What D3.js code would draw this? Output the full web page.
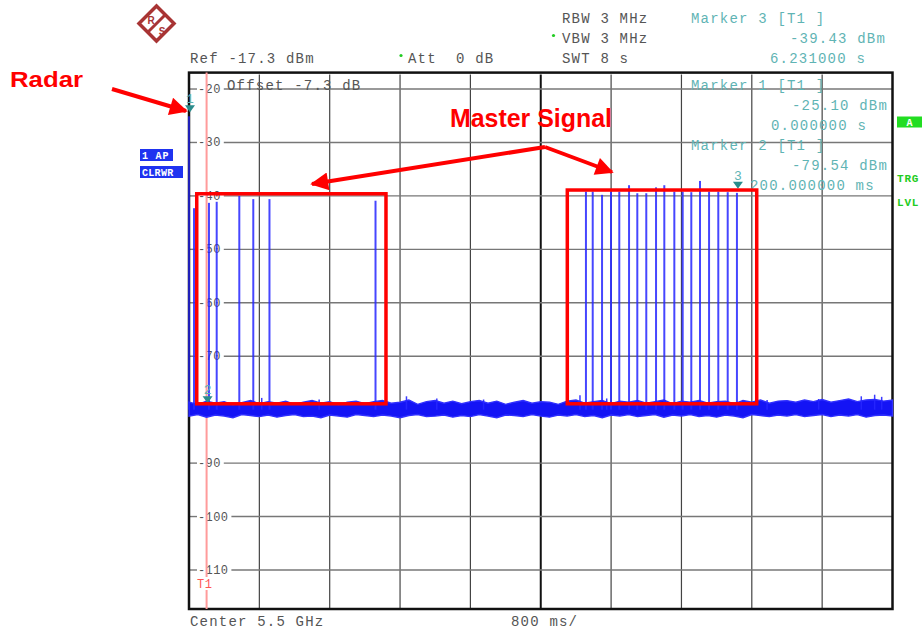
<!DOCTYPE html>
<html>
<head>
<meta charset="utf-8">
<script src="https://cdn.jsdelivr.net/npm/d3@7"></script>
<style>
  body { margin: 0; background: #fff; }
  text { white-space: pre; }
</style>
</head>
<body>
<div id="chart"></div>
<script>
// Sweep: 8 s over 10 divisions, ref level -17.3 dBm, 10 dB/div
var sweepMs = 8000;
var refLevel = -17.3;
var bottomLevel = -117.3;
var levelTicks = [-20, -30, -40, -50, -60, -70, -80, -90, -100, -110];
var timeTicks = [0, 800, 1600, 2400, 3200, 4000, 4800, 5600, 6400, 7200, 8000];

// Radar pulse (marker 1)
var radarTime = [0];
var radarPeak = [-25.1];

// Master signal pulses, first burst
var leftPulseTimes = [57, 227, 315, 572, 731, 915, 2121];
var leftPulsePeaks = [-42.3, -41.3, -41.1, -40.0, -40.6, -40.6, -40.9];

// Master signal pulses, second burst
var rightPulseTimes = [4514, 4591, 4697, 4799, 4893, 5004, 5098, 5200, 5311, 5405, 5519, 5614, 5712, 5811, 5914, 6019, 6126, 6231];
var rightPulsePeaks = [-39.2, -39.2, -39.8, -39.2, -39.2, -38.0, -39.5, -39.5, -38.4, -38.0, -39.2, -39.2, -39.3, -37.2, -39.2, -39.2, -39.3, -39.43];

// Noise floor envelope, every 100 ms
var noiseTop = [-78.6, -79.0, -78.4, -78.8, -78.5, -79.1, -78.7, -78.3, -78.9, -78.5, -78.8,
  -78.4, -79.0, -78.6, -78.3, -78.8, -78.5, -79.1, -78.6, -78.4, -78.9,
  -78.5, -78.3, -78.8, -78.6, -78.2, -79.0, -78.5, -78.3, -78.8, -78.4,
  -78.9, -78.5, -78.3, -78.8, -78.4, -79.0, -78.6, -78.3, -78.8, -78.5,
  -78.6, -79.0, -78.4, -78.2, -78.8, -78.5, -78.3, -78.9, -78.4, -78.6,
  -78.3, -78.8, -78.5, -78.2, -78.9, -78.4, -78.6, -78.3, -78.8, -78.5,
  -78.4, -78.9, -78.3, -78.6, -78.2, -78.8, -78.4, -78.3, -78.6, -78.2,
  -78.5, -78.1, -78.6, -78.3, -78.0, -78.5, -78.2, -78.1, -78.4, -78.2];
var noiseBottom = [-81.2, -80.9, -81.4, -81.0, -81.2, -81.5, -80.9, -81.1, -81.3, -81.0, -81.4,
  -81.1, -80.9, -81.3, -81.2, -81.5, -81.0, -81.2, -81.4, -80.9, -81.1,
  -81.3, -81.0, -81.2, -81.5, -81.1, -80.9, -81.3, -81.2, -81.0, -81.4,
  -81.1, -81.3, -80.9, -81.2, -81.5, -81.0, -81.1, -81.3, -80.9, -81.2,
  -81.4, -81.0, -81.2, -80.9, -81.3, -81.1, -81.5, -81.0, -81.2, -80.9,
  -81.3, -81.1, -80.9, -81.4, -81.0, -81.2, -80.9, -81.3, -81.1, -81.4,
  -81.0, -81.2, -81.5, -80.9, -81.1, -81.3, -81.0, -81.2, -80.9, -81.3,
  -81.1, -80.9, -81.3, -81.0, -81.2, -80.9, -81.4, -81.1, -81.0, -81.2];
var noiseStepMs = 100;

// Single noise spikes above the floor
var spikeTimes = [827, 1480, 2473, 2818, 3350, 4446, 4750, 6574, 7160, 7645, 7797, 7877];
var spikePeaks = [-77.8, -78.1, -77.5, -77.9, -78.1, -77.3, -77.9, -78.2, -78.0, -77.5, -77.2, -77.6];

// Markers
var markerNames = ["1", "2", "3"];
var markerTimes = [0, 200, 6231];
var markerLevels = [-25.10, -79.54, -39.43];

// Display line T1
var lineT1 = 200;

// Highlight boxes [t0, t1, top dBm, bottom dBm]
var boxLeft = [88, 2240, -39.6, -78.9];
var boxRight = [4302, 6456, -38.9, -78.9];

var W = 922, H = 632;
var plot = {left: 189, right: 892.5, top: 74.6, bottom: 609};

var x = d3.scaleLinear().domain([0, sweepMs]).range([plot.left, plot.right]);
var y = d3.scaleLinear().domain([bottomLevel, refLevel]).range([plot.bottom, plot.top]);

var svg = d3.select("#chart").append("svg")
    .attr("width", W)
    .attr("height", H);

var mono = "'Liberation Mono', 'DejaVu Sans Mono', monospace";
var grayText = "#555";
var teal = "#5fb4b4";
var logoRed = "#a83434";

// R&S logo
svg.append("path")
    .attr("d", "M156.5,6 L174,23.5 L156.5,41 L139,23.5 Z")
    .attr("fill", "#fff").attr("stroke", logoRed).attr("stroke-width", 3.5);
svg.append("line")
    .attr("x1", 147).attr("y1", 33).attr("x2", 166).attr("y2", 14)
    .attr("stroke", logoRed).attr("stroke-width", 3);
svg.append("text").attr("x", 151).attr("y", 24).attr("text-anchor", "middle")
    .attr("font-family", "'Liberation Sans', sans-serif").attr("font-weight", "bold")
    .attr("font-size", 10).attr("fill", logoRed).text("R");
svg.append("text").attr("x", 162).attr("y", 35).attr("text-anchor", "middle")
    .attr("font-family", "'Liberation Sans', sans-serif").attr("font-weight", "bold")
    .attr("font-size", 10).attr("fill", logoRed).text("S");

// Header texts
function label(tx, ty, str, color, anchor) {
    return svg.append("text")
        .attr("x", tx)
        .attr("y", ty)
        .attr("font-family", mono)
        .attr("font-size", 14)
        .attr("letter-spacing", 1.2)
        .attr("fill", color)
        .attr("text-anchor", anchor || "start")
        .text(str);
}
label(190, 63, "Ref -17.3 dBm", grayText);
label(408, 63, "Att  0 dB", grayText);
label(562, 23, "RBW 3 MHz", grayText);
label(562, 43, "VBW 3 MHz", grayText);
label(562, 63, "SWT 8 s", grayText);
svg.append("circle").attr("cx", 401).attr("cy", 55.5).attr("r", 1.6).attr("fill", "#2c2");
svg.append("circle").attr("cx", 553.5).attr("cy", 35.5).attr("r", 1.6).attr("fill", "#2c2");
label(691, 23, "Marker 3 [T1 ]", teal);
label(790, 43, "-39.43 dBm", teal);
label(770, 63, "6.231000 s", teal);

// Side badges
svg.append("rect").attr("x", 140).attr("y", 149).attr("width", 33).attr("height", 12).attr("fill", "#1f33f0");
svg.append("rect").attr("x", 140).attr("y", 166).attr("width", 43).attr("height", 12).attr("fill", "#1f33f0");
svg.append("text").attr("x", 142).attr("y", 159).attr("font-family", mono).attr("font-weight", "bold")
    .attr("font-size", 10).attr("letter-spacing", 0.8).attr("fill", "#fff").text("1 AP");
svg.append("text").attr("x", 142).attr("y", 176).attr("font-family", mono).attr("font-weight", "bold")
    .attr("font-size", 10).attr("letter-spacing", 0.3).attr("fill", "#fff").text("CLRWR");
svg.append("rect").attr("x", 897).attr("y", 116.5).attr("width", 25).attr("height", 11).attr("fill", "#2d2");
svg.append("text").attr("x", 909.5).attr("y", 125.5).attr("text-anchor", "middle").attr("font-family", mono)
    .attr("font-weight", "bold").attr("font-size", 10).attr("fill", "#fff").text("A");
svg.append("text").attr("x", 897).attr("y", 182).attr("font-family", mono).attr("font-weight", "bold")
    .attr("font-size", 11).attr("letter-spacing", 0.8).attr("fill", "#2c2").text("TRG");
svg.append("text").attr("x", 897).attr("y", 206).attr("font-family", mono).attr("font-weight", "bold")
    .attr("font-size", 11).attr("letter-spacing", 0.8).attr("fill", "#2c2").text("LVL");

// Grid: vertical lines
svg.append("g")
    .selectAll("line")
    .data(timeTicks.slice(1, -1))
    .enter().append("line")
    .attr("x1", function(d) { return x(d); })
    .attr("x2", function(d) { return x(d); })
    .attr("y1", plot.top)
    .attr("y2", plot.bottom)
    .attr("stroke", function(d) { return d === 4000 ? "#111" : "#444"; })
    .attr("stroke-width", function(d) { return d === 4000 ? 2 : 1.2; });

// Grid: horizontal lines broken by their level label
var hgrid = svg.append("g");
levelTicks.forEach(function(v) {
    var labelEnd = 199 + String(v).length * 7.6 + 2;
    hgrid.append("line")
        .attr("x1", plot.left).attr("x2", 197)
        .attr("y1", y(v)).attr("y2", y(v))
        .attr("stroke", "#777").attr("stroke-width", 1.4);
    hgrid.append("line")
        .attr("x1", labelEnd).attr("x2", plot.right)
        .attr("y1", y(v)).attr("y2", y(v))
        .attr("stroke", "#777").attr("stroke-width", 1.4);
    hgrid.append("text")
        .attr("x", 198)
        .attr("y", y(v) + 4)
        .attr("font-family", mono)
        .attr("font-size", 12)
        .attr("letter-spacing", 0.4)
        .attr("fill", grayText)
        .text(v);
});

// Frame
svg.append("rect")
    .attr("x", plot.left).attr("y", plot.top - 2)
    .attr("width", plot.right - plot.left).attr("height", plot.bottom - plot.top + 2)
    .attr("fill", "none").attr("stroke", "#111").attr("stroke-width", 2.5);

// Display line T1
svg.append("line")
    .attr("x1", x(lineT1)).attr("x2", x(lineT1))
    .attr("y1", plot.top - 2).attr("y2", 577)
    .attr("stroke", "#ff9b9b").attr("stroke-width", 2);
svg.append("line")
    .attr("x1", x(lineT1)).attr("x2", x(lineT1))
    .attr("y1", 590).attr("y2", plot.bottom)
    .attr("stroke", "#ff9b9b").attr("stroke-width", 2);
svg.append("text").attr("x", 197).attr("y", 588).attr("font-family", mono)
    .attr("font-size", 12).attr("letter-spacing", 0.5).attr("fill", "#f55").text("T1");

// Text inside the plot
label(227, 90, "Offset -7.3 dB", grayText);
label(691, 90, "Marker 1 [T1 ]", teal);
label(792, 110, "-25.10 dBm", teal);
label(771, 130, "0.000000 s", teal);
label(691, 150, "Marker 2 [T1 ]", teal);
label(792, 170, "-79.54 dBm", teal);
label(750, 190, "200.000000 ms", teal);

// Trace: noise floor band
var noiseData = noiseTop.map(function(v, i) {
    return {t: i * noiseStepMs, hi: v, lo: noiseBottom[i]};
});
svg.append("path")
    .datum(noiseData)
    .attr("fill", "#1414f5")
    .attr("stroke", "#3030ff")
    .attr("stroke-width", 1.4)
    .attr("d", d3.area()
        .x(function(d) { return x(d.t); })
        .y0(function(d) { return y(d.lo); })
        .y1(function(d) { return y(d.hi); }));

// Trace: pulses drawn from the floor up to their peak
function pulses(times, peaks, width, opacity) {
    svg.append("g")
        .selectAll("line")
        .data(times)
        .enter().append("line")
        .attr("x1", function(d) { return x(d); })
        .attr("x2", function(d) { return x(d); })
        .attr("y1", y(-80))
        .attr("y2", function(d, i) { return y(peaks[i]); })
        .attr("stroke", "#2626ff")
        .attr("stroke-opacity", opacity)
        .attr("stroke-width", width);
}
pulses(spikeTimes, spikePeaks, 1.5, 0.9);
pulses(radarTime, radarPeak, 2, 0.7);
pulses(leftPulseTimes, leftPulsePeaks, 2, 0.85);
pulses(rightPulseTimes, rightPulsePeaks, 2, 0.85);

// Markers
var markers = svg.append("g")
    .selectAll("g")
    .data(markerNames)
    .enter().append("g")
    .attr("transform", function(d, i) {
        return "translate(" + (x(markerTimes[i]) + 1) + "," + (y(markerLevels[i]) - 4) + ")";
    });
markers.append("path")
    .attr("d", "M-5,-7 L5,-7 L0,0 Z")
    .attr("fill", "#2a8c8c");
markers.append("text")
    .attr("y", -9)
    .attr("text-anchor", "middle")
    .attr("font-family", mono)
    .attr("font-size", 13)
    .attr("fill", teal)
    .text(function(d) { return d; });

// Highlight boxes
[boxLeft, boxRight].forEach(function(b) {
    svg.append("rect")
        .attr("x", x(b[0]))
        .attr("y", y(b[2]))
        .attr("width", x(b[1]) - x(b[0]))
        .attr("height", y(b[3]) - y(b[2]))
        .attr("fill", "none")
        .attr("stroke", "#f00")
        .attr("stroke-width", 3.5);
});

// Annotation arrows
svg.append("defs").append("marker")
    .attr("id", "head")
    .attr("viewBox", "0 0 10 10")
    .attr("refX", 9)
    .attr("refY", 5)
    .attr("markerWidth", 5.5)
    .attr("markerHeight", 4.5)
    .attr("markerUnits", "strokeWidth")
    .attr("orient", "auto")
    .append("path")
    .attr("d", "M0,0 L10,5 L0,10 Z")
    .attr("fill", "#f00");

var arrows = [
    [112, 89, 186, 111],
    [545, 147, 312, 184],
    [545, 147, 612, 172]
];
svg.append("g")
    .selectAll("line")
    .data(arrows)
    .enter().append("line")
    .attr("x1", function(d) { return d[0]; })
    .attr("y1", function(d) { return d[1]; })
    .attr("x2", function(d) { return d[2]; })
    .attr("y2", function(d) { return d[3]; })
    .attr("stroke", "#f00")
    .attr("stroke-width", 4)
    .attr("marker-end", "url(#head)");

svg.append("text")
    .attr("x", 10).attr("y", 87)
    .attr("font-family", "'Liberation Sans', Arial, sans-serif")
    .attr("font-weight", "bold")
    .attr("font-size", 22)
    .attr("textLength", 73)
    .attr("lengthAdjust", "spacingAndGlyphs")
    .attr("fill", "#f00")
    .text("Radar");
svg.append("text")
    .attr("x", 450).attr("y", 127)
    .attr("font-family", "'Liberation Sans', Arial, sans-serif")
    .attr("font-weight", "bold")
    .attr("font-size", 25)
    .attr("textLength", 162)
    .attr("lengthAdjust", "spacingAndGlyphs")
    .attr("fill", "#f00")
    .text("Master Signal");

// Bottom texts
label(190, 626, "Center 5.5 GHz", grayText);
label(511, 626, "800 ms/", grayText);
</script>
</body>
</html>
